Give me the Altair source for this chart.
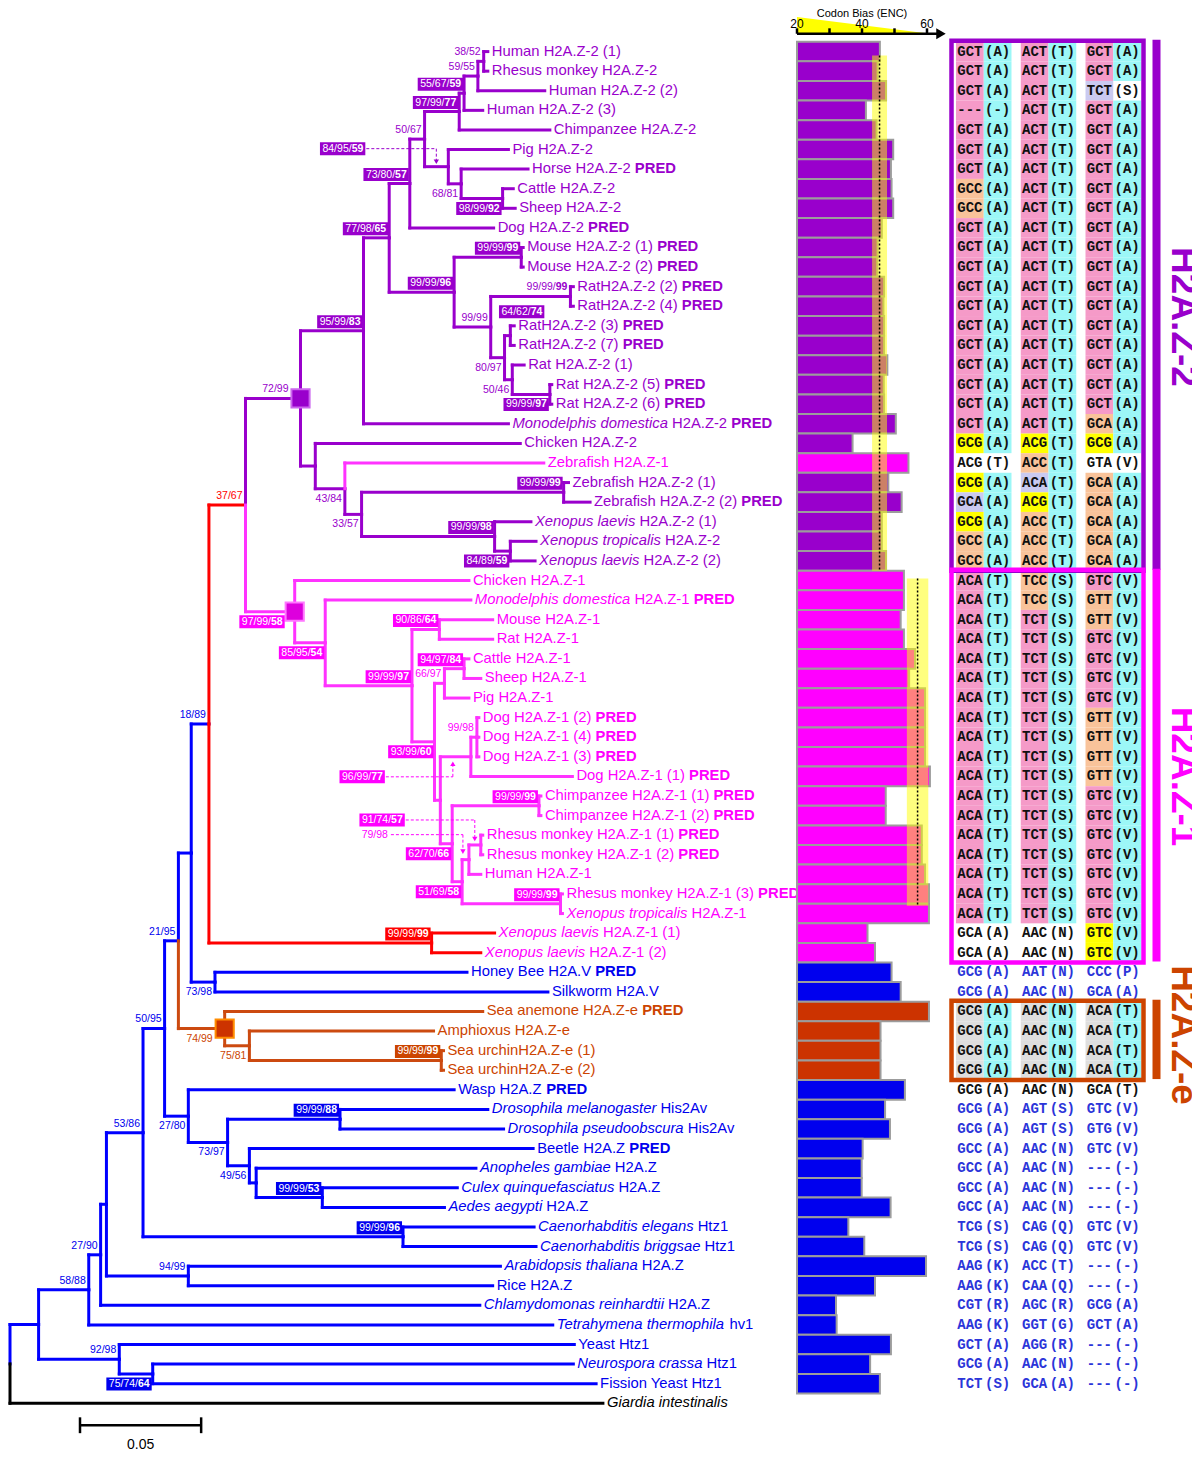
import re
import altair as alt
import pandas as pd

# ---------------------------------------------------------------- tips (rows, top to bottom)
tip_label = [
    "Human H2A.Z-2 (1)", "Rhesus monkey H2A.Z-2", "Human H2A.Z-2 (2)", "Human H2A.Z-2 (3)",
    "Chimpanzee H2A.Z-2", "Pig H2A.Z-2", "Horse H2A.Z-2", "Cattle H2A.Z-2", "Sheep H2A.Z-2",
    "Dog H2A.Z-2", "Mouse H2A.Z-2 (1)", "Mouse H2A.Z-2 (2)", "RatH2A.Z-2 (2)", "RatH2A.Z-2 (4)",
    "RatH2A.Z-2 (3)", "RatH2A.Z-2 (7)", "Rat H2A.Z-2 (1)", "Rat H2A.Z-2 (5)", "Rat H2A.Z-2 (6)",
    "_Monodelphis domestica_ H2A.Z-2", "Chicken H2A.Z-2", "Zebrafish H2A.Z-1",
    "Zebrafish H2A.Z-2 (1)", "Zebrafish H2A.Z-2 (2)", "_Xenopus laevis_ H2A.Z-2 (1)",
    "_Xenopus tropicalis_ H2A.Z-2", "_Xenopus laevis_ H2A.Z-2 (2)",
    "Chicken H2A.Z-1", "_Monodelphis domestica_ H2A.Z-1", "Mouse H2A.Z-1", "Rat H2A.Z-1",
    "Cattle H2A.Z-1", "Sheep H2A.Z-1", "Pig H2A.Z-1", "Dog H2A.Z-1 (2)", "Dog H2A.Z-1 (4)",
    "Dog H2A.Z-1 (3)", "Dog H2A.Z-1 (1)", "Chimpanzee H2A.Z-1 (1)", "Chimpanzee H2A.Z-1 (2)",
    "Rhesus monkey H2A.Z-1 (1)", "Rhesus monkey H2A.Z-1 (2)", "Human H2A.Z-1",
    "Rhesus monkey H2A.Z-1 (3)", "_Xenopus tropicalis_ H2A.Z-1", "_Xenopus laevis_ H2A.Z-1 (1)",
    "_Xenopus laevis_ H2A.Z-1 (2)", "Honey Bee H2A.V", "Silkworm H2A.V",
    "Sea anemone H2A.Z-e", "Amphioxus H2A.Z-e", "Sea urchinH2A.Z-e (1)", "Sea urchinH2A.Z-e (2)",
    "Wasp H2A.Z", "_Drosophila melanogaster_ His2Av", "_Drosophila pseudoobscura_ His2Av",
    "Beetle H2A.Z", "_Anopheles gambiae_ H2A.Z", "_Culex quinquefasciatus_ H2A.Z",
    "_Aedes aegypti_ H2A.Z", "_Caenorhabditis elegans_ Htz1", "_Caenorhabditis briggsae_ Htz1",
    "_Arabidopsis thaliana_ H2A.Z", "Rice H2A.Z", "_Chlamydomonas reinhardtii_ H2A.Z",
    "_Tetrahymena thermophila_ hv1", "Yeast Htz1", "_Neurospora crassa_ Htz1",
    "Fission Yeast Htz1", "_Giardia intestinalis_",
]
pred_rows = [7, 10, 11, 12, 13, 14, 15, 16, 18, 19, 20, 24, 29, 35, 36, 37, 38, 39, 40,
             41, 42, 44, 48, 50, 54, 57]
tip_parent = ["HR", "HR", "N1", "N2", "N3", "N5", "N6", "N7", "N7", "N8",
              "MM", "MM", "R24", "R24", "R37", "R37", "RC", "R56", "R56", "N10",
              "N12", "N14", "ZF", "ZF", "XZ", "XT", "XT",
              "N16", "N17", "MR", "MR", "CS", "CS", "CSP", "D4", "D4", "D4", "DG", "CH", "CH",
              "RR", "RR", "N23", "RX", "RX", "XLZ1", "XLZ1",
              "HS", "HS", "O", "P", "SU", "SU",
              "K", "DR", "DR", "K3", "K4", "CA", "CA", "CE", "CE", "H", "H", "E", "B", "C", "D", "D", "root"]
# cumulative distance from the root, in 0.001 substitutions/site
tip_depth = [197.2, 197.2, 220.7, 195.1, 222.8, 205.7, 213.8, 207.7, 208.5, 199.6,
             211.8, 211.8, 232.5, 232.5, 208.1, 208.1, 212.2, 223.6, 223.6, 205.7,
             210.6, 220.3, 230.5, 239.4, 215.0, 217.1, 216.7,
             189.4, 190.2, 199.2, 199.2, 189.4, 194.3, 189.4, 193.5, 193.5, 193.5, 232.1, 219.1, 219.1,
             195.1, 195.1, 194.3, 228.0, 228.0, 200.0, 194.3,
             188.6, 222.0, 195.1, 174.8, 178.9, 178.9,
             183.3, 197.2, 203.7, 215.9, 192.3, 184.6, 179.3, 216.3, 217.1, 202.4, 199.2, 193.9,
             224.0, 232.9, 232.5, 241.9, 244.7]
tip_branch_clade = "p" * 21 + "m" + "p" * 5 + "m" * 18 + "rr" + "bb" + "oooo" + "b" * 16 + "k"
tip_text_clade = "p" * 21 + "m" + "p" * 5 + "m" * 20 + "bb" + "oooo" + "b" * 16 + "k"

# ---------------------------------------------------------------- internal nodes
node_name = ["root", "A", "B", "E", "E2", "G", "I", "J", "L", "R",
             "N13", "N11", "N10", "N9", "N8", "N4", "N3", "N2", "N1", "HR",
             "N5", "N6", "N7", "M", "MM", "RT", "R24", "RB", "R37", "RC",
             "R56", "N12", "N14", "N15", "ZF", "XZ", "XT", "N16", "N17", "N18",
             "MR", "N19", "CSP", "CS", "N20", "DG", "D4", "N21", "CH", "N22",
             "N23", "RR", "RX", "XLZ1", "HS", "O", "P", "SU", "K", "K2",
             "DR", "K3", "K4", "CA", "CE", "H", "C", "D"]
node_parent = [None, "root", "A", "B", "E", "E2", "G", "I", "J", "L",
               "R", "N13", "N11", "N10", "N9", "N8", "N4", "N3", "N2", "N1",
               "N4", "N5", "N6", "N9", "M", "M", "RT", "RT", "RB", "RB",
               "RC", "N11", "N12", "N14", "N15", "N15", "XZ", "N13", "N16", "N17",
               "N18", "N18", "N19", "CSP", "N19", "N20", "DG", "N20", "N21", "N21",
               "N22", "N23", "N22", "R", "L", "J", "O", "P", "I", "K",
               "K2", "K2", "K3", "K4", "G", "E2", "A", "C"]
node_depth = [0, 11.8, 32.5, 37.4, 39.8, 54.9, 63.8, 69.5, 74.8, 82.1,
              97.2, 119.9, 145.9, 156.5, 165.0, 171.1, 185.4, 187.4, 193.1, 195.5,
              180.9, 186.2, 203.3, 183.3, 211.0, 198.4, 231.3, 204.1, 206.5, 207.3,
              222.8, 126.0, 138.2, 145.1, 228.5, 200.0, 206.5, 117.5, 130.1, 165.9,
              177.2, 175.2, 179.3, 187.4, 177.6, 190.2, 192.7, 182.5, 218.3, 186.6,
              189.4, 194.3, 227.2, 174.0, 84.6, 88.6, 98.8, 178.0, 73.6, 89.8,
              136.2, 98.8, 101.6, 128.9, 162.2, 73.6, 45.1, 58.9]
node_clade = "k" + "b" * 9 + "r" + "p" + "p" * 8 + "p" * 11 + "p" * 6 + "m" * 16 + "r" + "b" + "ooo" + "b" * 7 + "bbb"
node_support = ["", "", "58/88", "27/90", "", "53/86", "50/95", "21/95", "", "18/89",
                "37/67", "72/99", "95/99/83", "77/98/65", "73/80/57", "50/67", "97/99/77", "55/67/59", "59/55", "38/52",
                "84/95/59", "68/81", "98/99/92", "99/99/96", "99/99/99", "99/99", "99/99/99", "80/97", "64/62/74", "50/46",
                "99/99/97", "", "43/84", "33/57", "99/99/99", "99/99/98", "84/89/59", "97/99/58", "85/95/54", "99/99/97",
                "90/86/64", "93/99/60", "66/97", "94/97/84", "", "96/99/77", "99/98", "62/70/66", "99/99/99", "51/69/58",
                "79/98", "91/74/57", "99/99/99", "99/99/99", "73/98", "74/99", "75/81", "99/99/99", "27/80", "73/97",
                "99/99/88", "49/56", "", "99/99/53", "99/99/96", "94/99", "92/98", "75/74/64"]
# t = plain text, b = boxed; a = above branch, b = below branch, x = displaced with dotted arrow,
# o = displaced without arrow
node_style = ["", "", "ta", "ta", "", "ta", "ta", "ta", "", "ta",
              "ta", "ta", "ba", "ba", "ba", "ta", "ba", "ba", "ta", "ta",
              "bx", "tb", "bb", "ba", "ba", "ta", "ta", "tb", "bo", "tb",
              "bb", "", "tb", "tb", "ba", "ba", "bb", "bb", "bb", "ba",
              "ba", "bb", "ta", "ba", "", "bx", "ta", "bb", "ba", "bb",
              "tx", "bx", "ba", "ba", "tb", "tb", "tb", "ba", "tb", "tb",
              "ba", "tb", "", "ba", "ba", "ta", "ta", "bb"]
square_nodes = ["N11", "N16", "O"]
scale_bar_length = 0.05

# ---------------------------------------------------------------- codon bias (ENC) per row
enc_values = [45.5, 44.8, 47.4, 41.2, 44.5, 49.6, 48.9, 49.1, 49.6, 46.1,
              44.8, 44.7, 46.8, 46.6, 46.8, 46.8, 47.8, 46.7, 46.8, 50.4,
              37.1, 54.3, 48.1, 52.2, 46.1, 46.1, 47.4, 52.9, 52.9, 51.9,
              52.9, 56.3, 54.5, 59.4, 59.4, 59.4, 59.4, 60.9, 47.3, 47.3,
              58.4, 58.4, 59.4, 60.6, 60.6, 41.7, 44.0, 49.1, 51.9, 60.6,
              45.7, 45.7, 45.7, 53.2, 47.1, 48.6, 40.2, 39.9, 39.9, 48.8,
              35.8, 40.7, 59.7, 44.0, 32.0, 32.2, 48.9, 42.5, 45.5]
bar_group = "p" * 21 + "m" + "p" * 5 + "m" * 20 + "bb" + "oooo" + "b" * 16
band_lo = [43.1, 53.8]
band_hi = [47.7, 60.4]
band_mean = [45.4, 57.1]
band_row_from = [1.2, 27.9]
band_row_to = [27.5, 44.6]
enc_ticks = [20, 30, 40, 50, 60]
enc_tick_labels = [20, 40, 60]

# ---------------------------------------------------------------- codon alignment per row
codon_rows = (["GCT(A) ACT(T) GCT(A)"] * 2 + ["GCT(A) ACT(T) TCT(S)", "---(-) ACT(T) GCT(A)"]
              + ["GCT(A) ACT(T) GCT(A)"] * 3 + ["GCC(A) ACT(T) GCT(A)"] * 2
              + ["GCT(A) ACT(T) GCT(A)"] * 10
              + ["GCT(A) ACT(T) GCA(A)", "GCG(A) ACG(T) GCG(A)", "ACG(T) ACC(T) GTA(V)",
                 "GCG(A) ACA(T) GCA(A)", "GCA(A) ACG(T) GCA(A)", "GCG(A) ACC(T) GCA(A)"]
              + ["GCC(A) ACC(T) GCA(A)"] * 2
              + ["ACA(T) TCC(S) GTC(V)", "ACA(T) TCC(S) GTT(V)", "ACA(T) TCT(S) GTT(V)"]
              + ["ACA(T) TCT(S) GTC(V)"] * 4 + ["ACA(T) TCT(S) GTT(V)"] * 4
              + ["ACA(T) TCT(S) GTC(V)"] * 7 + ["GCA(A) AAC(N) GTC(V)"] * 2
              + ["GCG(A) AAT(N) CCC(P)", "GCG(A) AAC(N) GCA(A)"]
              + ["GCG(A) AAC(N) ACA(T)"] * 4
              + ["GCG(A) AAC(N) GCA(T)", "GCG(A) AGT(S) GTC(V)", "GCG(A) AGT(S) GTG(V)",
                 "GCC(A) AAC(N) GTC(V)"]
              + ["GCC(A) AAC(N) ---(-)"] * 3 + ["TCG(S) CAG(Q) GTC(V)"] * 2
              + ["AAG(K) ACC(T) ---(-)", "AAG(K) CAA(Q) ---(-)", "CGT(R) AGC(R) GCG(A)",
                 "AAG(K) GGT(G) GCT(A)", "GCT(A) AGG(R) ---(-)", "GCG(A) AAC(N) ---(-)",
                 "TCT(S) GCA(A) ---(-)"])
codon_bg = (["pcpcpc"] * 2 + ["pcpclw", "pcpcpc"] + ["pcpcpc"] * 3 + ["ocpcpc"] * 2
            + ["pcpcpc"] * 10 + ["pcpcoc", "ycycyc", "wwocww", "yclcoc", "lcycoc", "ycococ"]
            + ["ocococ"] * 2 + ["pcocpc", "pcococ", "pcpcoc"] + ["pcpcpc"] * 4 + ["pcpcoc"] * 4
            + ["pcpcpc"] * 7 + ["wwwwyc"] * 2 + ["wwwwww"] * 2 + ["gcgcgc"] * 4 + ["wwwwww"] * 16)
codon_ink = "k" * 47 + "bb" + "k" * 5 + "b" * 15

# clade blocks of the alignment (first row, last row)
block_rows = [(1, 27), (28, 47), (50, 53)]
block_names = ["H2A.Z-2", "H2A.Z-1", "H2A.Z-e"]
block_clade = ["p", "m", "o"]

# ---------------------------------------------------------------- styles / scales
W_PX, H_PX = 1184, 1444
Y_TOP, Y_BOT = -1.2246, 72.487
ROWPX = H_PX / (Y_BOT - Y_TOP)
PPU = 2423.0
FS_TIP = 14.8
FS_SUP = 10.5
SANS = "Liberation Sans"

CLR = {"p": "#9900CC", "m": "#FF00FF", "r": "#FF0000", "b": "#0000EE", "o": "#CC4400", "k": "#000000"}
LINE = {"p": "#9900CC", "m": "#FF33FF", "r": "#FF0000", "b": "#0000FF", "o": "#CC4A10", "k": "#000000"}
BAR_CLR = {"p": "#9900CC", "m": "#FF00FF", "b": "#0000EE", "o": "#CC3300"}
CELL = {"p": "#F59AC8", "c": "#9CF7F7", "o": "#F9C39A", "y": "#FFFF00", "l": "#CACAF0", "g": "#DEDEDE"}
INK = {"k": "#111111", "b": "#2B35D9"}
SQUARE = {"N11": ("#9900CC", "#CC66EE"), "N16": ("#DD00DD", "#FF77FF"), "O": ("#CC3300", "#FF8C00")}
DISPLACED = {"N5": (-12, -73, -18, -5), "DG": (-18, -70, 20, 7),
             "RR": (-6, -72, -25, -6), "N23": (-6, -75, -25, -8)}
OFFSET = {"R37": (32, -24)}

YS = alt.Scale(domain=[Y_TOP, Y_BOT], reverse=True, nice=False, zero=False)
TREE_X = alt.Scale(domain=[0, 0.5], range=[2, 2 + 0.5 * PPU], nice=False, zero=False)
BAR_X = alt.Scale(domain=[20, 60], range=[789, 919], nice=False, zero=False)
CODON_X = alt.Scale(domain=["g1", "g2", "g3"], range=[948, 1133], paddingInner=0.143, paddingOuter=0)
FRAME_X = alt.Scale(domain=[0, W_PX], range=[0, W_PX], nice=False, zero=False)


def ref_row(y):
    return 1 + (y - 45) / 19.78


WR = {c: 556 for c in "0123456789"}
WR.update({" ": 278, "(": 333, ")": 333, "-": 333, ".": 278, "/": 278})
WR.update(dict(zip("ABCDEFGHIJKLMNOPQRSTUVWXYZ",
                   [667, 667, 722, 722, 667, 611, 778, 722, 278, 500, 667, 556, 833, 722, 778, 667,
                    778, 722, 667, 611, 722, 667, 944, 667, 667, 611])))
WR.update(dict(zip("abcdefghijklmnopqrstuvwxyz",
                   [556, 556, 500, 556, 556, 278, 556, 556, 222, 222, 500, 222, 833, 556, 556, 556,
                    556, 333, 500, 278, 556, 500, 722, 500, 500, 500])))
WB = {c: 556 for c in "0123456789"}
WB.update({" ": 278, "/": 278, "P": 667, "R": 722, "E": 667, "D": 722})


def tw(s, fs, bold=False):
    t = WB if bold else WR
    return sum(t.get(ch, 556) for ch in s) / 1000.0 * fs


# ---------------------------------------------------------------- tree layout
X, Y, CL = {}, {}, {}
kids = {}
for n, p, d, c in zip(node_name, node_parent, node_depth, node_clade):
    X[n] = d / 1000.0
    CL[n] = c
    if p is not None:
        kids.setdefault(p, []).append(n)
PAR = dict(zip(node_name, node_parent))
for i, p in enumerate(tip_parent):
    t = "tip%d" % (i + 1)
    X[t] = tip_depth[i] / 1000.0
    Y[t] = i + 1
    CL[t] = tip_branch_clade[i]
    PAR[t] = p
    kids.setdefault(p, []).append(t)


def set_y(n):
    if n in Y:
        return Y[n]
    ys = [set_y(k) for k in kids[n]]
    Y[n] = (min(ys) + max(ys)) / 2.0
    return Y[n]


set_y("root")

seg = []
for n, p in PAR.items():
    if p is None:
        continue
    col = LINE[CL[n]]
    seg.append(dict(x=X[p], x2=X[p], y=Y[p], y2=Y[n], c=col))
    seg.append(dict(x=X[p], x2=X[n], y=Y[n], y2=Y[n], c=col))
seg_df = pd.DataFrame(seg)

tips_norm, tips_ital, tips_bold = [], [], []
for i, lab in enumerate(tip_label):
    row = i + 1
    x = X["tip%d" % row] + 4 / PPU
    col = CLR[tip_text_clade[i]]
    for pc in re.split(r"(_[^_]+_)", lab):
        if not pc:
            continue
        ital = pc.startswith("_") and pc.endswith("_") and len(pc) > 2
        txt = pc[1:-1] if ital else pc
        core = txt.strip(" ")
        lead = len(txt) - len(txt.lstrip(" "))
        trail = len(txt) - len(txt.rstrip(" ")) if core else 0
        x += tw(" " * lead, FS_TIP) / PPU
        if core:
            (tips_ital if ital else tips_norm).append(dict(x=x, y=row, t=core, c=col))
            x += tw(core, FS_TIP) / PPU
        x += tw(" " * trail, FS_TIP) / PPU
    if row in pred_rows:
        x += tw(" ", FS_TIP) / PPU
        tips_bold.append(dict(x=x, y=row, t="PRED", c=col))

sup_norm, sup_bold, sup_box, dots, heads = [], [], [], [], []
for n, s, st in zip(node_name, node_support, node_style):
    if not s:
        continue
    nx, ny = X[n], Y[n]
    if s.count("/") == 2:
        a, b = s.rsplit("/", 1)
        norm, bold = a + "/", b
    else:
        norm, bold = s, ""
    wn, wbold = tw(norm, FS_SUP), tw(bold, FS_SUP, True)
    gap = 12 if n in square_nodes else 3
    if st[1] == "a":
        right, ly = nx - gap / PPU, ny - 9 / ROWPX
    elif st[1] == "b":
        right, ly = nx - gap / PPU, ny + 10 / ROWPX
    elif st[1] == "o":
        ox, oy = OFFSET[n]
        right, ly = nx + ox / PPU, ny + oy / ROWPX
    else:
        a_, b_, c_, d_ = DISPLACED[n]
        ax = nx + a_ / PPU
        right = ax + b_ / PPU
        ly = ny + c_ / ROWPX
        end = ny + d_ / ROWPX
        lc = CLR[CL[n]]
        dots.append(dict(x=right + 3 / PPU, x2=ax, y=ly, y2=ly, c=lc))
        dots.append(dict(x=ax, x2=ax, y=ly, y2=end, c=lc))
        heads.append(dict(x=ax, y=end, s="triangle-down" if c_ < 0 else "triangle-up", c=lc))
    boxed = st[0] == "b"
    tc = "#FFFFFF" if boxed else CLR[CL[n]]
    if boxed:
        sup_box.append(dict(x=right - (wn + wbold + 2.5) / PPU, x2=right + 2 / PPU,
                            y=ly - 6.5 / ROWPX, y2=ly + 6.5 / ROWPX, c=CLR[CL[n]]))
    if bold:
        sup_bold.append(dict(x=right, y=ly, t=bold, c=tc))
    sup_norm.append(dict(x=right - wbold / PPU, y=ly, t=norm, c=tc))

sq_df = pd.DataFrame([dict(x=X[n], y=Y[n], f=SQUARE[n][0], s=SQUARE[n][1]) for n in square_nodes])

sb_x0 = (80 - 10) / PPU
sb_rules = pd.DataFrame([
    dict(x=sb_x0, x2=sb_x0 + scale_bar_length, y=ref_row(1432), y2=ref_row(1432)),
    dict(x=sb_x0, x2=sb_x0, y=ref_row(1424), y2=ref_row(1440)),
    dict(x=sb_x0 + scale_bar_length, x2=sb_x0 + scale_bar_length, y=ref_row(1424), y2=ref_row(1440)),
])
sb_text = pd.DataFrame([dict(x=sb_x0 + scale_bar_length / 2, y=ref_row(1452), t="%.2f" % scale_bar_length)])

# ---------------------------------------------------------------- bars
bars_df = pd.DataFrame([dict(start=20, enc=v, y0=r + 0.5, y1=r + 1.5, c=BAR_CLR[g])
                        for r, (v, g) in enumerate(zip(enc_values, bar_group))])
band_df = pd.DataFrame(dict(lo=band_lo, hi=band_hi, m=band_mean, y0=band_row_from, y1=band_row_to))
tri_df = pd.DataFrame(dict(enc=[20, 61], top=[ref_row(10), ref_row(27)], bot=[ref_row(27), ref_row(27)]))
axis_df = pd.DataFrame([dict(x=20, x2=64, y=ref_row(27), y2=ref_row(27))]
                       + [dict(x=t, x2=t, y=ref_row(21.5), y2=ref_row(27)) for t in enc_ticks])
arrow_df = pd.DataFrame([dict(x=64.3, y=ref_row(27))])
tlab_df = pd.DataFrame([dict(x=t, y=ref_row(17), t=str(t)) for t in enc_tick_labels])
title_df = pd.DataFrame([dict(x=40, y=ref_row(7.5), t="Codon Bias (ENC)")])

# ---------------------------------------------------------------- codon table
cells, ctext = [], []
for r, (line, bg, ink) in enumerate(zip(codon_rows, codon_bg, codon_ink), start=1):
    for gi, grp in enumerate(line.split(" ")):
        for k, (kind, txt) in enumerate((("codon", grp[:3]), ("aa", grp[3:]))):
            code = bg[2 * gi + k]
            g = "g%d" % (gi + 1)
            if code != "w":
                cells.append(dict(g=g, kind=kind, y0=r - 0.5, y1=r + 0.5, c=CELL[code]))
            ctext.append(dict(g=g, kind=kind, y=r, t=txt, c=INK[ink]))
cells_df = pd.DataFrame(cells)
ctext_df = pd.DataFrame(ctext)

# ---------------------------------------------------------------- frames / group labels (row based)
frames_df = pd.DataFrame([dict(x=943.5, x2=1135.5, y=a - 0.55, y2=b + 0.5, c=CLR[c])
                          for (a, b), c in zip(block_rows, block_clade)])
gbars_df = pd.DataFrame([dict(x=1144.5, x2=1152.5, y=a - 0.6, y2=b + 0.45, c=CLR[c])
                         for (a, b), c in zip(block_rows, block_clade)])
glab_y = [ref_row(313), ref_row(777), ref_row(1038)]
glab_df = pd.DataFrame([dict(x=1175, y=yy, t=nm, c=CLR[c])
                        for yy, nm, c in zip(glab_y, block_names, block_clade)])


# ---------------------------------------------------------------- layers
def xq(f, s):
    return alt.X(f + ":Q", scale=s, axis=None)


def yq(f):
    return alt.Y(f + ":Q", scale=YS, axis=None)


def text_layer(df, xs, **kw):
    return alt.Chart(pd.DataFrame(df)).mark_text(baseline="middle", **kw).encode(
        x=xq("x", xs), y=yq("y"), text="t:N", color=alt.Color("c:N", scale=None))


layers = []
# tree
layers.append(alt.Chart(seg_df).mark_rule(strokeWidth=3, strokeCap="square").encode(
    x=xq("x", TREE_X), x2="x2:Q", y=yq("y"), y2="y2:Q", color=alt.Color("c:N", scale=None)))
layers.append(alt.Chart(sq_df).mark_square(size=330, strokeWidth=2, opacity=1).encode(
    x=xq("x", TREE_X), y=yq("y"), fill=alt.Fill("f:N", scale=None), stroke=alt.Stroke("s:N", scale=None)))
layers.append(alt.Chart(pd.DataFrame(sup_box)).mark_rect().encode(
    x=xq("x", TREE_X), x2="x2:Q", y=yq("y"), y2="y2:Q", color=alt.Color("c:N", scale=None)))
layers.append(alt.Chart(pd.DataFrame(dots)).mark_rule(strokeWidth=1, strokeDash=[3, 2]).encode(
    x=xq("x", TREE_X), x2="x2:Q", y=yq("y"), y2="y2:Q", color=alt.Color("c:N", scale=None)))
layers.append(alt.Chart(pd.DataFrame(heads)).mark_point(filled=True, size=28, opacity=1).encode(
    x=xq("x", TREE_X), y=yq("y"), shape=alt.Shape("s:N", scale=None), color=alt.Color("c:N", scale=None)))
layers.append(text_layer(sup_norm, TREE_X, align="right", font=SANS, fontSize=FS_SUP))
layers.append(text_layer(sup_bold, TREE_X, align="right", font=SANS, fontSize=FS_SUP, fontWeight="bold"))
layers.append(text_layer(tips_norm, TREE_X, align="left", font=SANS, fontSize=FS_TIP))
layers.append(text_layer(tips_ital, TREE_X, align="left", font=SANS, fontSize=FS_TIP, fontStyle="italic"))
layers.append(text_layer(tips_bold, TREE_X, align="left", font=SANS, fontSize=FS_TIP, fontWeight="bold"))
layers.append(alt.Chart(sb_rules).mark_rule(strokeWidth=2.5, color="black").encode(
    x=xq("x", TREE_X), x2="x2:Q", y=yq("y"), y2="y2:Q"))
layers.append(alt.Chart(sb_text).mark_text(baseline="middle", align="center", font=SANS, fontSize=14,
                                           color="black").encode(x=xq("x", TREE_X), y=yq("y"), text="t:N"))
# codon bias bars
layers.append(alt.Chart(bars_df).mark_rect(stroke="#9C9C9C", strokeWidth=2).encode(
    x=xq("start", BAR_X), x2="enc:Q", y=yq("y0"), y2="y1:Q", fill=alt.Fill("c:N", scale=None)))
layers.append(alt.Chart(band_df).mark_rect(color="#FFFF00", opacity=0.5).encode(
    x=xq("lo", BAR_X), x2="hi:Q", y=yq("y0"), y2="y1:Q"))
layers.append(alt.Chart(band_df).mark_rule(color="black", strokeWidth=1.5, strokeDash=[2, 2]).encode(
    x=xq("m", BAR_X), y=yq("y0"), y2="y1:Q"))
layers.append(alt.Chart(tri_df).mark_area(color="#FFFF00", opacity=1).encode(
    x=xq("enc", BAR_X), y=yq("top"), y2="bot:Q"))
layers.append(alt.Chart(axis_df).mark_rule(color="black", strokeWidth=2.5).encode(
    x=xq("x", BAR_X), x2="x2:Q", y=yq("y"), y2="y2:Q"))
layers.append(alt.Chart(arrow_df).mark_point(shape="triangle-right", filled=True, size=120, color="black",
                                             opacity=1).encode(x=xq("x", BAR_X), y=yq("y")))
layers.append(alt.Chart(tlab_df).mark_text(baseline="middle", align="center", font=SANS, fontSize=12,
                                           color="black").encode(x=xq("x", BAR_X), y=yq("y"), text="t:N"))
layers.append(alt.Chart(title_df).mark_text(baseline="middle", align="center", font=SANS, fontSize=11,
                                            color="black").encode(x=xq("x", BAR_X), y=yq("y"), text="t:N"))
# codon alignment
layers.append(alt.Chart(cells_df).mark_rect().encode(
    x=alt.X("g:N", scale=CODON_X, axis=None),
    xOffset=alt.XOffset("kind:N", scale=alt.Scale(domain=["codon", "aa"])),
    y=yq("y0"), y2="y1:Q", color=alt.Color("c:N", scale=None)))
layers.append(alt.Chart(ctext_df).mark_text(baseline="middle", align="center", font="Liberation Mono",
                                            fontSize=14, fontWeight="bold").encode(
    x=alt.X("g:N", scale=CODON_X, axis=None),
    xOffset=alt.XOffset("kind:N", scale=alt.Scale(domain=["codon", "aa"])),
    y=yq("y"), text="t:N", color=alt.Color("c:N", scale=None)))
# frames and clade labels
layers.append(alt.Chart(frames_df).mark_rect(fillOpacity=0, strokeWidth=4.5).encode(
    x=xq("x", FRAME_X), x2="x2:Q", y=yq("y"), y2="y2:Q", stroke=alt.Stroke("c:N", scale=None)))
layers.append(alt.Chart(gbars_df).mark_rect().encode(
    x=xq("x", FRAME_X), x2="x2:Q", y=yq("y"), y2="y2:Q", color=alt.Color("c:N", scale=None)))
layers.append(alt.Chart(glab_df).mark_text(baseline="middle", align="center", angle=90, font=SANS,
                                           fontSize=37, fontWeight="bold").encode(
    x=xq("x", FRAME_X), y=yq("y"), text="t:N", color=alt.Color("c:N", scale=None)))

chart = alt.layer(*layers).resolve_scale(x="independent", xOffset="independent").properties(
    width=W_PX, height=H_PX, padding=0, autosize=alt.AutoSizeParams(type="none"),
    background="white",
).configure_view(strokeWidth=0)

chart.save("out.html", embed_options={"renderer": "svg", "actions": False})
